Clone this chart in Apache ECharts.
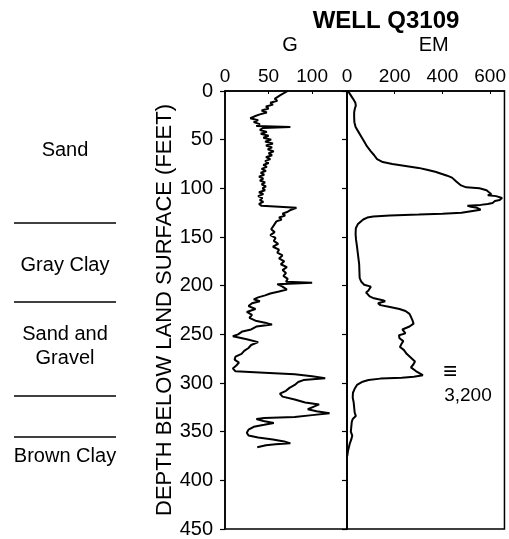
<!DOCTYPE html>
<html>
<head>
<meta charset="utf-8">
<title>Well Q3109</title>
<script src="https://cdn.jsdelivr.net/npm/echarts@6/dist/echarts.min.js"></script>
<style>
  html, body { margin: 0; padding: 0; background: #fff; }
  #chart { width: 509px; height: 539px; }
</style>
</head>
<body>
<div id="chart"></div>
<script>
// depth ticks (feet below land surface)
var depthTicks = [0, 50, 100, 150, 200, 250, 300, 350, 400, 450]
var gTicks = [0, 50, 100]
var emTicks = [0, 200, 400, 600]

// gamma log (G), depth in feet
var gDepth = [0, 2, 4, 6, 8, 10, 12, 14, 16, 18, 20, 22, 24, 26, 28, 30, 32, 34, 36, 37, 38, 40, 42, 44, 46, 48, 50,
  52, 54, 56, 58, 60, 62, 64, 66, 68, 70, 72, 74, 76, 78, 80, 82, 84, 86, 88, 90, 92, 94, 96, 98, 100,
  102, 104, 106, 108, 110, 112, 114, 116, 118, 119.5, 120, 122, 124, 126, 128, 130, 132, 134, 136, 138, 140,
  142, 145, 148, 151, 154, 157, 160, 163, 166, 169, 172, 175, 178, 181, 184, 187, 190, 193, 196, 197, 198.5,
  201, 204, 206, 208, 210, 212, 214, 216, 218, 221, 224, 227, 230, 233, 236, 238, 240, 242, 245, 247, 250,
  252, 255, 258, 261, 264, 267, 270, 273, 276, 279, 282, 285, 288, 289.5, 291, 293, 295, 297, 299, 302, 305,
  308, 311, 314, 317, 320, 322, 325, 327, 329, 331, 333, 335, 336, 337, 339, 341, 343, 345, 348, 351, 354,
  356, 358, 360, 362, 363, 364, 366]
var gValue = [72, 70, 64, 66, 57, 60, 52, 55, 47, 50, 42, 48, 40, 34, 29, 38, 33, 40, 36, 75, 44, 40, 48, 41, 50, 44, 53,
  46, 55, 47, 54, 49, 56, 50, 54, 47, 52, 46, 50, 44, 48, 42, 47, 41, 45, 39, 44, 40, 46, 42, 47, 43,
  46, 39, 44, 38, 43, 40, 44, 39, 42, 41, 82, 76, 72, 66, 69, 62, 65, 59, 61, 56, 58,
  53, 57, 52, 58, 56, 61, 55, 62, 60, 66, 62, 68, 64, 71, 66, 70, 67, 72, 70, 100, 60,
  66, 71, 62, 52, 46, 38, 33, 40, 31, 27, 35, 25, 31, 28, 35, 46, 54, 36, 30, 20, 15,
  9, 25, 38, 30, 27, 22, 19, 12, 11, 16, 13, 9, 12, 45, 80, 100, 115, 90, 84, 80, 74,
  70, 63, 66, 80, 92, 108, 100, 95, 105, 120, 100, 80, 45, 36, 44, 56, 45, 33, 27, 25, 27,
  38, 55, 68, 75, 58, 47, 37]

// electromagnetic log (EM), depth in feet
var emDepth = [0, 3, 6, 9, 12, 15, 18, 22, 27, 32, 37, 42, 47, 52, 57, 62, 66, 70, 73, 75, 77, 79, 81, 83, 85, 87,
  89, 91, 93, 95, 97, 99, 100, 102, 104, 106, 107, 108, 110, 112, 113, 115, 116, 117, 118, 119, 120, 122,
  123, 125, 126, 127, 128, 129, 130, 132, 134, 137, 141, 147, 153, 160, 166, 172, 178, 185, 192, 196, 199,
  201, 203, 205, 207, 209, 211, 213, 215, 216, 218, 220, 222, 224, 226, 229, 232, 236, 239, 242, 245, 247,
  249, 251, 254, 257, 260, 263, 266, 270, 274, 278, 281, 284, 286, 288, 290, 292, 293.5, 294.5, 295.5, 297,
  299, 302, 306, 310, 315, 320, 325, 330, 334, 337, 340, 345, 350, 354, 358, 362, 366, 370, 375]
var emValue = [4, 12, 20, 28, 35, 37, 33, 30, 30, 31, 36, 48, 60, 72, 84, 100, 114, 126, 150, 190, 245, 300, 335, 370, 395, 420,
  440, 448, 458, 466, 478, 500, 555, 585, 595, 605, 590, 625, 650, 640, 620, 610, 590, 560, 505, 520, 545, 560,
  565, 480, 400, 300, 180, 110, 85, 68, 58, 45, 37, 36, 38, 42, 45, 48, 51, 52, 53, 60, 72,
  100, 107, 90, 80, 78, 95, 113, 150, 160, 130, 140, 180, 220, 245, 262, 268, 275, 279, 262, 232, 225,
  245, 218, 220, 236, 228, 222, 238, 250, 268, 285, 278, 268, 275, 290, 298, 318, 280, 230, 140, 90,
  62, 42, 32, 25, 24, 28, 30, 32, 37, 24, 20, 18, 16, 22, 18, 12, 8, 4, 1]

// lithology column
var lithoNames = ['Sand', 'Gray Clay', 'Sand and\nGravel', 'Brown Clay']
var lithoLabelDepth = [61, 179, 262, 376]
var lithoBoundaries = [135, 217, 313, 355]

// off-scale note on the EM log
var emNote = ['≡', '3,200']
var emNoteValue = [433, 507]
var emNoteDepth = [289, 313]
var emNoteSize = [24, 19]

function pairs (xs, ys) {
  var out = []
  for (var i = 0; i < xs.length; i++) out.push([ys[i], xs[i]])
  return out
}

var ink = '#000'
var font = 'Liberation Sans, Arial, sans-serif'

var chart = echarts.init(document.getElementById('chart'))

var depthAxisBase = {
  type: 'value',
  inverse: true,
  min: 0,
  max: 450,
  interval: 50,
  splitLine: { show: false },
  axisLine: { show: true, lineStyle: { color: ink, width: 1.5 } },
  axisTick: { show: true, length: 5, lineStyle: { color: ink, width: 1.2 } },
  axisLabel: { show: false }
}

// labels drawn at a data point, with no visible symbol
function textSeries (name, xi, yi, size, data) {
  return {
    name: name,
    type: 'scatter',
    xAxisIndex: xi,
    yAxisIndex: yi,
    symbolSize: 0,
    silent: true,
    itemStyle: { opacity: 1 },
    label: {
      show: true,
      position: 'inside',
      fontSize: size,
      lineHeight: size + 4,
      color: ink,
      formatter: function (p) { return p.data[2] }
    },
    data: data
  }
}

var lithoSeries = textSeries('litho', 2, 2, 20,
  lithoNames.map(function (t, i) { return [0.5, lithoLabelDepth[i], t] }))
lithoSeries.markLine = {
  silent: true,
  symbol: ['none', 'none'],
  label: { show: false },
  lineStyle: { color: ink, width: 1.5, type: 'solid', opacity: 1 },
  data: lithoBoundaries.map(function (d) { return { yAxis: d } })
}

var noteSeries = textSeries('note', 1, 1, 19,
  emNote.map(function (t, i) {
    return { value: [emNoteValue[i], emNoteDepth[i], t], label: { fontSize: emNoteSize[i] } }
  }))
noteSeries.label.formatter = function (p) { return p.value[2] }

chart.setOption({
  animation: false,
  backgroundColor: '#fff',
  textStyle: { fontFamily: font, color: ink },
  title: {
    text: 'WELL Q3109',
    left: 381,
    top: 4,
    textAlign: 'center',
    textStyle: { fontFamily: font, fontSize: 24, fontWeight: 'bold', color: ink }
  },
  grid: [
    { left: 225, top: 91, width: 122, height: 438, show: true, borderColor: ink, borderWidth: 1.5 },
    { left: 347, top: 91, width: 160, height: 438, show: true, borderColor: ink, borderWidth: 1.5 },
    { left: 14, top: 91, width: 102, height: 438 }
  ],
  xAxis: [
    {
      gridIndex: 0,
      type: 'value',
      position: 'top',
      min: 0,
      max: 140,
      name: 'G',
      nameLocation: 'middle',
      nameGap: 36,
      nameTextStyle: { fontSize: 20, color: ink, padding: [0, 0, 0, 8] },
      splitLine: { show: false },
      axisLine: { lineStyle: { color: ink, width: 1.5 } },
      axisTick: { show: true, inside: true, length: 3, customValues: gTicks, lineStyle: { color: ink } },
      axisLabel: { fontSize: 19, color: ink, margin: 5, customValues: gTicks }
    },
    {
      gridIndex: 1,
      type: 'value',
      position: 'top',
      min: 0,
      max: 660,
      name: 'EM',
      nameLocation: 'middle',
      nameGap: 36,
      nameTextStyle: { fontSize: 20, color: ink, padding: [0, 0, 0, 16] },
      splitLine: { show: false },
      axisLine: { lineStyle: { color: ink, width: 1.5 } },
      axisTick: { show: true, inside: true, length: 3, customValues: emTicks, lineStyle: { color: ink } },
      axisLabel: { fontSize: 19, color: ink, margin: 5, customValues: emTicks }
    },
    { gridIndex: 2, type: 'value', min: 0, max: 1, show: false }
  ],
  yAxis: [
    Object.assign({}, depthAxisBase, {
      gridIndex: 0,
      name: 'DEPTH BELOW LAND SURFACE (FEET)',
      nameLocation: 'middle',
      nameGap: 37,
      nameTextStyle: { fontSize: 22, color: ink },
      axisLabel: { show: true, fontSize: 20, color: ink, margin: 12, customValues: depthTicks }
    }),
    Object.assign({}, depthAxisBase, { gridIndex: 1 }),
    { gridIndex: 2, type: 'value', inverse: true, min: 0, max: 450, show: false }
  ],
  series: [
    {
      name: 'G',
      type: 'line',
      xAxisIndex: 0,
      yAxisIndex: 0,
      showSymbol: false,
      lineStyle: { color: ink, width: 2 },
      data: pairs(gDepth, gValue)
    },
    {
      name: 'EM',
      type: 'line',
      xAxisIndex: 1,
      yAxisIndex: 1,
      showSymbol: false,
      lineStyle: { color: ink, width: 2 },
      data: pairs(emDepth, emValue)
    },
    noteSeries,
    lithoSeries
  ]
})
</script>
</body>
</html>
